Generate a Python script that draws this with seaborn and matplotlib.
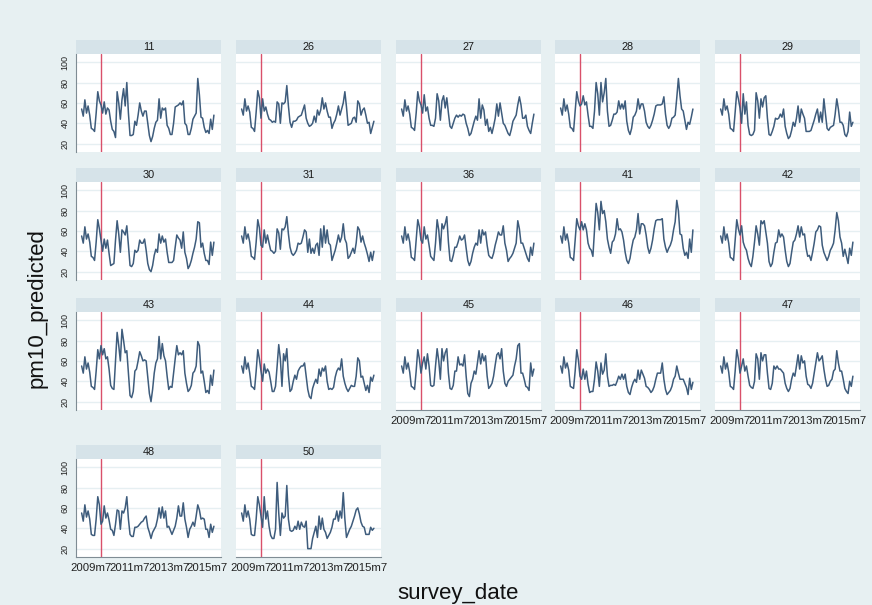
import numpy as np
import pandas as pd
import matplotlib
matplotlib.use("Agg")
import matplotlib.pyplot as plt
import seaborn as sns

# ---------------- data (monthly, 2009m1 .. 2015m11) ----------------
panel_ids = [11, 26, 27, 28, 29, 30, 31, 36, 41, 42, 43, 44, 45, 46, 47, 48, 50]
start_year, start_month = 2009, 1
cutoff_label = "2010m1"          # red reference line
xtick_labels = ["2009m7", "2011m7", "2013m7", "2015m7"]
ytick_values = [20, 40, 60, 80, 100]

pm10_11 = [54, 47, 63, 50, 57, 48, 35, 34, 32, 50, 71, 62, 58,
           50, 61, 49, 55, 53, 42, 34, 32, 26,
           71, 60, 44, 63, 74, 57, 80, 50, 28, 28, 29,
           42, 38, 48, 60, 52, 47, 52, 52, 40,
           28, 22, 27, 35, 41, 43, 64, 45, 55, 53, 55,
           38, 35, 29, 29, 40, 56, 57, 58, 60, 58, 62,
           40, 38, 29, 29, 35, 44, 47, 50, 84, 68,
           46, 45, 36, 31, 33, 30, 44, 34, 48]
pm10_26 = [54, 48, 64, 52, 57, 51, 36, 35, 32, 51, 72, 65, 45,
           64, 52, 56, 49, 44, 43, 41, 42, 41,
           61, 59, 40, 60, 59, 61, 77, 57, 41, 36, 42,
           42, 43, 46, 47, 48, 53, 58, 45, 40,
           37, 38, 40, 47, 41, 53, 48, 53, 65, 54, 60,
           52, 46, 46, 35, 40, 43, 49, 57, 48, 54, 60,
           71, 56, 38, 39, 40, 45, 46, 41, 62, 59,
           48, 53, 55, 48, 40, 41, 30, 36, 42]
pm10_27 = [54, 47, 63, 52, 57, 49, 36, 35, 33, 50, 71, 62, 58,
           50, 68, 52, 56, 45, 38, 38, 37, 45,
           69, 62, 43, 62, 67, 55, 65, 50, 37, 35, 40,
           45, 48, 46, 48, 47, 49, 48, 40, 35,
           28, 30, 36, 42, 47, 43, 64, 45, 58, 53, 38,
           44, 32, 36, 30, 37, 45, 59, 47, 60, 50, 40,
           38, 34, 30, 28, 34, 42, 45, 48, 58, 66,
           58, 45, 45, 48, 37, 33, 30, 40, 49]
pm10_28 = [55, 48, 64, 52, 58, 49, 36, 35, 32, 52, 71, 62, 57,
           59, 67, 58, 61, 48, 37, 37, 35, 52,
           80, 69, 48, 80, 61, 70, 84, 52, 37, 38, 43,
           49, 49, 51, 62, 54, 59, 54, 62, 42,
           33, 29, 35, 46, 48, 52, 64, 54, 59, 59, 52,
           41, 37, 35, 38, 43, 49, 57, 58, 58, 58, 59,
           66, 49, 38, 35, 38, 45, 46, 48, 65, 84,
           67, 54, 52, 43, 34, 41, 39, 46, 54]
pm10_29 = [54, 48, 64, 53, 57, 49, 35, 34, 32, 51, 71, 64, 55,
           40, 69, 49, 61, 38, 29, 28, 29, 33,
           70, 62, 45, 64, 56, 65, 67, 45, 29, 28, 32,
           37, 45, 44, 45, 49, 46, 54, 37, 30,
           25, 27, 33, 41, 37, 45, 57, 41, 54, 49, 45,
           32, 32, 32, 33, 38, 43, 49, 54, 41, 51, 41,
           64, 49, 35, 33, 36, 37, 38, 49, 64, 54,
           41, 41, 38, 29, 27, 32, 51, 37, 41]
pm10_30 = [55, 48, 64, 52, 57, 49, 35, 34, 31, 49, 71, 62, 51,
           40, 52, 43, 51, 38, 26, 27, 28, 51,
           70, 57, 39, 61, 59, 56, 65, 46, 26, 25, 28,
           41, 39, 41, 51, 48, 48, 52, 41, 28,
           22, 20, 26, 36, 42, 39, 57, 48, 55, 49, 52,
           39, 29, 29, 29, 31, 44, 56, 53, 51, 43, 59,
           39, 33, 23, 26, 31, 38, 44, 52, 69, 68,
           44, 48, 38, 31, 31, 27, 49, 36, 49]
pm10_31 = [55, 48, 64, 52, 57, 49, 35, 34, 32, 49, 71, 63, 46,
           44, 61, 48, 56, 48, 41, 40, 38, 40,
           62, 58, 42, 62, 61, 64, 74, 57, 44, 38, 36,
           38, 41, 48, 47, 48, 54, 61, 59, 39,
           52, 38, 43, 38, 46, 48, 36, 62, 44, 65, 48,
           61, 48, 46, 31, 36, 41, 48, 56, 49, 54, 67,
           52, 48, 33, 35, 39, 43, 38, 48, 64, 61,
           49, 55, 48, 43, 37, 30, 39, 31, 40]
pm10_36 = [55, 48, 64, 51, 57, 49, 34, 33, 31, 51, 71, 64, 51,
           48, 64, 52, 56, 46, 35, 33, 31, 48,
           71, 61, 41, 67, 62, 67, 74, 49, 31, 30, 36,
           44, 44, 49, 55, 51, 52, 56, 43, 31,
           26, 30, 38, 44, 48, 46, 61, 48, 61, 56, 59,
           46, 36, 34, 33, 38, 46, 52, 59, 56, 56, 65,
           48, 41, 30, 33, 35, 38, 43, 48, 70, 62,
           48, 48, 43, 38, 33, 30, 44, 36, 48]
pm10_41 = [55, 48, 64, 51, 57, 48, 34, 33, 31, 51, 72, 65, 61,
           69, 61, 67, 61, 48, 43, 41, 35, 61,
           87, 78, 61, 89, 77, 80, 69, 52, 44, 38, 49,
           51, 57, 72, 61, 62, 59, 51, 39, 31,
           28, 33, 43, 51, 54, 61, 77, 57, 67, 67, 65,
           56, 44, 38, 43, 51, 62, 70, 71, 71, 71, 72,
           52, 44, 39, 43, 46, 51, 61, 69, 90, 80,
           57, 56, 43, 36, 39, 33, 52, 39, 61]
pm10_42 = [55, 48, 64, 51, 57, 48, 34, 33, 31, 51, 71, 62, 56,
           65, 49, 44, 41, 33, 28, 25, 35, 49,
           65, 57, 46, 70, 67, 70, 59, 48, 30, 25, 28,
           39, 48, 49, 61, 54, 57, 54, 41, 30,
           25, 28, 39, 49, 51, 57, 65, 54, 64, 56, 57,
           43, 35, 36, 31, 39, 48, 59, 61, 65, 64, 46,
           39, 35, 31, 35, 41, 44, 48, 61, 78, 70,
           54, 48, 35, 42, 35, 28, 43, 36, 49]
pm10_43 = [55, 48, 64, 52, 58, 49, 35, 34, 32, 50, 71, 62, 75,
           66, 72, 62, 64, 52, 36, 33, 32, 60,
           88, 75, 60, 91, 80, 68, 70, 48, 26, 24, 30,
           50, 52, 60, 69, 65, 60, 61, 60, 44,
           28, 20, 32, 48, 58, 62, 84, 62, 77, 65, 60,
           45, 32, 35, 34, 48, 62, 75, 66, 68, 66, 70,
           48, 38, 30, 32, 36, 48, 50, 55, 79, 75,
           48, 50, 40, 29, 31, 28, 46, 36, 51]
pm10_44 = [55, 48, 64, 52, 58, 48, 35, 34, 32, 50, 71, 62, 50,
           40, 57, 48, 52, 49, 40, 30, 30, 35,
           55, 76, 62, 35, 67, 60, 72, 46, 30, 32, 40,
           46, 42, 50, 53, 55, 55, 58, 45, 32,
           25, 23, 33, 38, 42, 38, 52, 45, 53, 50, 55,
           40, 32, 33, 32, 34, 44, 50, 53, 51, 62, 45,
           38, 33, 30, 33, 36, 35, 35, 45, 63, 60,
           44, 45, 38, 31, 36, 29, 44, 40, 46]
pm10_45 = [55, 48, 64, 52, 58, 49, 35, 34, 32, 50, 71, 62, 48,
           58, 64, 52, 67, 55, 36, 35, 36, 55,
           72, 60, 42, 72, 60, 68, 72, 48, 33, 32, 36,
           50, 50, 64, 56, 57, 55, 66, 45, 28,
           25, 38, 42, 50, 47, 58, 70, 57, 67, 60, 65,
           45, 33, 35, 38, 45, 56, 66, 68, 62, 72, 50,
           38, 35, 40, 42, 44, 46, 55, 62, 75, 77,
           48, 48, 42, 35, 34, 31, 58, 45, 52]
pm10_46 = [55, 48, 64, 53, 58, 51, 35, 34, 33, 50, 71, 61, 45,
           42, 52, 42, 50, 37, 29, 30, 30, 42,
           59, 50, 35, 58, 47, 51, 67, 45, 35, 36, 36,
           37, 36, 40, 45, 42, 47, 42, 47, 35,
           29, 27, 34, 39, 42, 39, 51, 42, 51, 47, 43,
           35, 34, 32, 29, 31, 35, 42, 48, 48, 48, 58,
           42, 32, 27, 29, 31, 35, 42, 45, 55, 48,
           42, 42, 42, 38, 34, 27, 43, 32, 39]
pm10_47 = [55, 48, 64, 52, 58, 49, 35, 34, 32, 50, 71, 62, 48,
           55, 62, 50, 55, 45, 36, 34, 33, 40,
           67, 62, 42, 68, 60, 66, 66, 48, 33, 32, 38,
           55, 52, 55, 52, 52, 50, 48, 38, 33,
           30, 33, 42, 48, 45, 55, 66, 52, 65, 58, 60,
           45, 37, 36, 33, 38, 48, 58, 68, 60, 62, 65,
           52, 42, 35, 36, 40, 42, 50, 52, 70, 58,
           50, 50, 42, 33, 30, 28, 40, 35, 45]
pm10_48 = [55, 47, 63, 51, 57, 49, 34, 33, 33, 49, 71, 63, 44,
           47, 62, 50, 55, 48, 39, 38, 33, 44,
           58, 57, 39, 57, 55, 60, 71, 49, 34, 32, 32,
           41, 41, 42, 44, 46, 47, 50, 52, 41,
           36, 30, 36, 39, 42, 49, 60, 50, 61, 50, 57,
           41, 42, 38, 34, 38, 42, 50, 62, 52, 52, 65,
           49, 41, 31, 39, 42, 46, 42, 52, 63, 58,
           49, 50, 49, 39, 39, 31, 44, 36, 42]
pm10_50 = [55, 47, 63, 51, 57, 49, 34, 33, 33, 49, 71, 63, 52,
           41, 71, 49, 57, 42, 33, 30, 30, 39,
           85, 55, 33, 55, 50, 52, 82, 49, 38, 37, 38,
           42, 39, 47, 39, 46, 42, 41, 47, 20,
           20, 20, 30, 36, 42, 31, 52, 39, 50, 39, 36,
           30, 33, 36, 41, 49, 49, 57, 47, 57, 50, 75,
           49, 31, 35, 39, 42, 47, 52, 58, 60, 54,
           46, 42, 41, 34, 34, 34, 41, 38, 40]

series = [pm10_11, pm10_26, pm10_27, pm10_28, pm10_29, pm10_30, pm10_31,
          pm10_36, pm10_41, pm10_42, pm10_43, pm10_44, pm10_45, pm10_46,
          pm10_47, pm10_48, pm10_50]


def month_index(label):
    y, m = label.split("m")
    return (int(y) - start_year) * 12 + int(m) - start_month


rows = []
for pid, vals in zip(panel_ids, series):
    for i, v in enumerate(vals):
        rows.append({"panel": pid, "survey_date": i, "pm10_predicted": v})
df = pd.DataFrame(rows)

# ---------------- style ----------------
sns.set_theme(style="white")
plt.rcParams["font.family"] = ["Liberation Sans", "DejaVu Sans"]

BG = "#e7f0f2"
STRIP = "#d6e3e9"
GRID = "#e6eff2"
LINE = "#3e5c7c"
RED = "#d9506a"
AXC = "#7f8c94"

W, H = 872, 605
fig = plt.figure(figsize=(W / 100, H / 100), dpi=100, facecolor=BG)


def rect(x, y, w, h):
    return [x / W, 1 - (y + h) / H, w / W, h / H]


col_left = [76, 236, 396, 555, 715]
panel_w = 145
header_top = [40, 168, 298, 445]
header_h = 13.5
plot_h = 98
ncols = 5
n = len(panel_ids)

xticks_pos = [month_index(s) for s in xtick_labels]
cut = month_index(cutoff_label)

for k, pid in enumerate(panel_ids):
    r, c = divmod(k, ncols)
    x0 = col_left[c]
    ht = header_top[r]
    # header strip
    hax = fig.add_axes(rect(x0, ht, panel_w, header_h))
    hax.set_facecolor(STRIP)
    hax.set_xticks([]); hax.set_yticks([])
    for s in hax.spines.values():
        s.set_visible(False)
    hax.text(0.5, 0.5, str(pid), ha="center", va="center", fontsize=7.8,
             color="#1a1a1a", transform=hax.transAxes)

    ax = fig.add_axes(rect(x0, ht + header_h, panel_w, plot_h))
    ax.set_facecolor("white")
    sub = df[df["panel"] == pid]
    ax.axvline(cut, color=RED, lw=1.0, zorder=1.5)
    sns.lineplot(data=sub, x="survey_date", y="pm10_predicted", ax=ax,
                 color=LINE, lw=1.1, estimator=None, zorder=2)
    ax.set_xlim(-3.5, 86.4)
    ax.set_ylim(12.3, 108.5)
    ax.set_yticks(ytick_values)
    ax.yaxis.grid(True, color=GRID, lw=1.0)
    ax.xaxis.grid(False)
    ax.set_axisbelow(True)
    ax.set_xlabel(""); ax.set_ylabel("")
    for s in ax.spines.values():
        s.set_visible(False)

    # y axis only on first column
    if c == 0:
        ax.spines["left"].set_visible(True)
        ax.spines["left"].set_color(AXC)
        ax.spines["left"].set_linewidth(0.8)
        ax.tick_params(axis="y", length=3, width=0.7, color=AXC, pad=1.5,
                       labelsize=6.5, labelcolor="#222222")
        ax.set_yticklabels([str(v) for v in ytick_values], rotation=90,
                           va="center")
    else:
        ax.tick_params(axis="y", length=0, labelleft=False)

    # x axis on bottom panel of each column
    below = k + ncols
    if below >= n:
        ax.spines["bottom"].set_visible(True)
        ax.spines["bottom"].set_color(AXC)
        ax.spines["bottom"].set_linewidth(0.8)
        ax.set_xticks(xticks_pos)
        ax.set_xticklabels(xtick_labels)
        ax.tick_params(axis="x", length=3, width=0.7, color=AXC, pad=1.5,
                       labelsize=8.2, labelcolor="#222222")
    else:
        ax.set_xticks(xticks_pos)
        ax.tick_params(axis="x", length=0, labelbottom=False)

fig.text(37 / W, 1 - 308 / H, "pm10_predicted", rotation=90, ha="center",
         va="center", fontsize=16, color="#111111")
fig.text(458 / W, 1 - 594 / H, "survey_date", ha="center", va="center",
         fontsize=16, color="#111111")

fig.savefig("out.png", dpi=100, facecolor=BG)
